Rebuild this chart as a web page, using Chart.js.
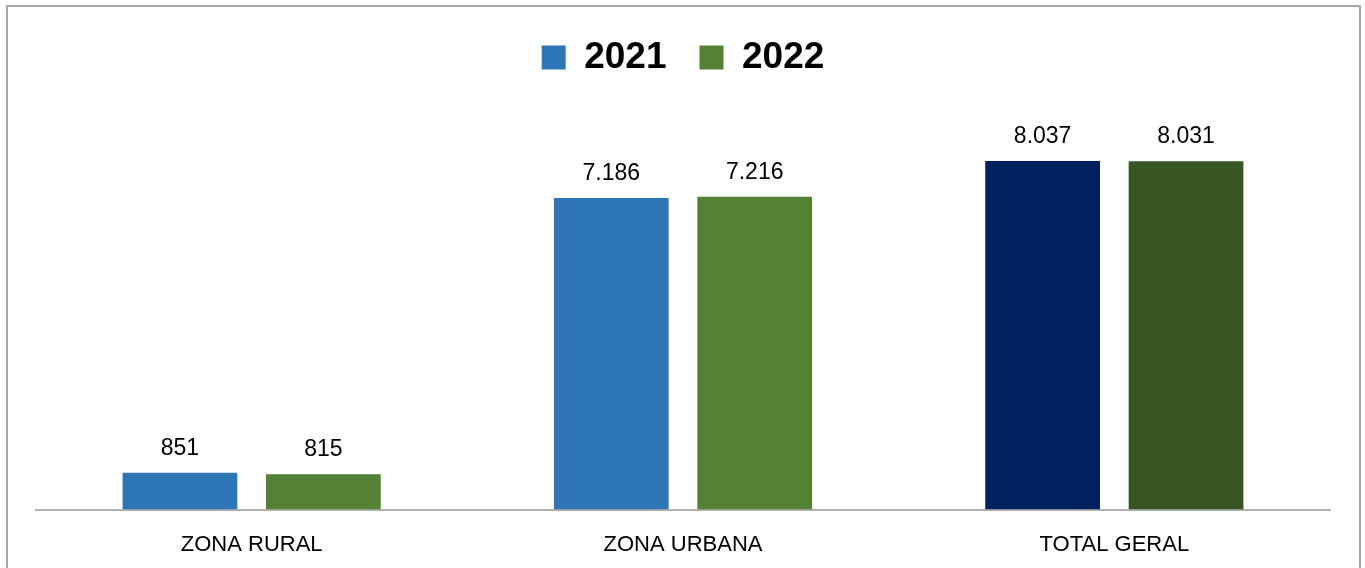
<!DOCTYPE html>
<html>
<head>
<meta charset="utf-8">
<script src="https://cdn.jsdelivr.net/npm/chart.js@4"></script>
<style>
  html, body { margin: 0; padding: 0; background: #fff; }
  #wrap { position: relative; width: 1365px; height: 568px; overflow: hidden; }
  #frame { position: absolute; left: 6px; top: 5px; width: 1351px; height: 600px;
           border: 2px solid #a6a6a6; pointer-events: none; }
  canvas { position: absolute; left: 0; top: 0; }
</style>
</head>
<body>
<div id="wrap">
  <canvas id="chart" width="1365" height="568"></canvas>
  <div id="frame"></div>
</div>
<script>
const categories = ['ZONA RURAL', 'ZONA URBANA', 'TOTAL GERAL'];
const seriesNames = ['2021', '2022'];
const values2021 = [851, 7186, 8037];
const values2022 = [815, 7216, 8031];

const lightColors = ['#2E75B6', '#548235'];
const darkColors = ['#002060', '#375623'];

function fmt(n) {
  return String(n).replace(/\B(?=(\d{3})+(?!\d))/g, '.');
}

// total column gets the darker shade
function colorFor(i) {
  return function (c) {
    if (c.type === 'data' && c.dataIndex === categories.length - 1) return darkColors[i];
    return lightColors[i];
  };
}

const valueLabels = {
  id: 'valueLabels',
  afterDatasetsDraw(chart) {
    const ctx = chart.ctx;
    ctx.save();
    ctx.font = '23px "Liberation Sans", Arial, sans-serif';
    ctx.fillStyle = '#000';
    ctx.textAlign = 'center';
    ctx.textBaseline = 'alphabetic';
    chart.data.datasets.forEach(function (ds, di) {
      chart.getDatasetMeta(di).data.forEach(function (bar, i) {
        ctx.fillText(fmt(ds.data[i]), bar.x, bar.y - 18);
      });
    });
    ctx.restore();
  }
};

new Chart(document.getElementById('chart'), {
  type: 'bar',
  data: {
    labels: categories,
    datasets: [
      { label: seriesNames[0], data: values2021, backgroundColor: colorFor(0) },
      { label: seriesNames[1], data: values2022, backgroundColor: colorFor(1) }
    ]
  },
  options: {
    responsive: false,
    animation: false,
    categoryPercentage: 0.665,
    barPercentage: 0.8,
    layout: { padding: { top: 6, left: 36, right: 35, bottom: -12 } },
    plugins: {
      legend: {
        position: 'top',
        labels: {
          boxWidth: 24,
          boxHeight: 24,
          padding: 33,
          color: '#000',
          font: { family: '"Liberation Sans", Arial, sans-serif', size: 37, weight: 'bold' }
        }
      },
      tooltip: { enabled: false }
    },
    scales: {
      x: {
        grid: { display: false, drawTicks: false },
        border: { display: true, color: '#b0b0b0', width: 2 },
        ticks: {
          color: '#000',
          padding: 22,
          font: { family: '"Liberation Sans", Arial, sans-serif', size: 22 }
        }
      },
      y: {
        display: false,
        min: 0,
        max: 9769
      }
    }
  },
  plugins: [valueLabels]
});
</script>
</body>
</html>
